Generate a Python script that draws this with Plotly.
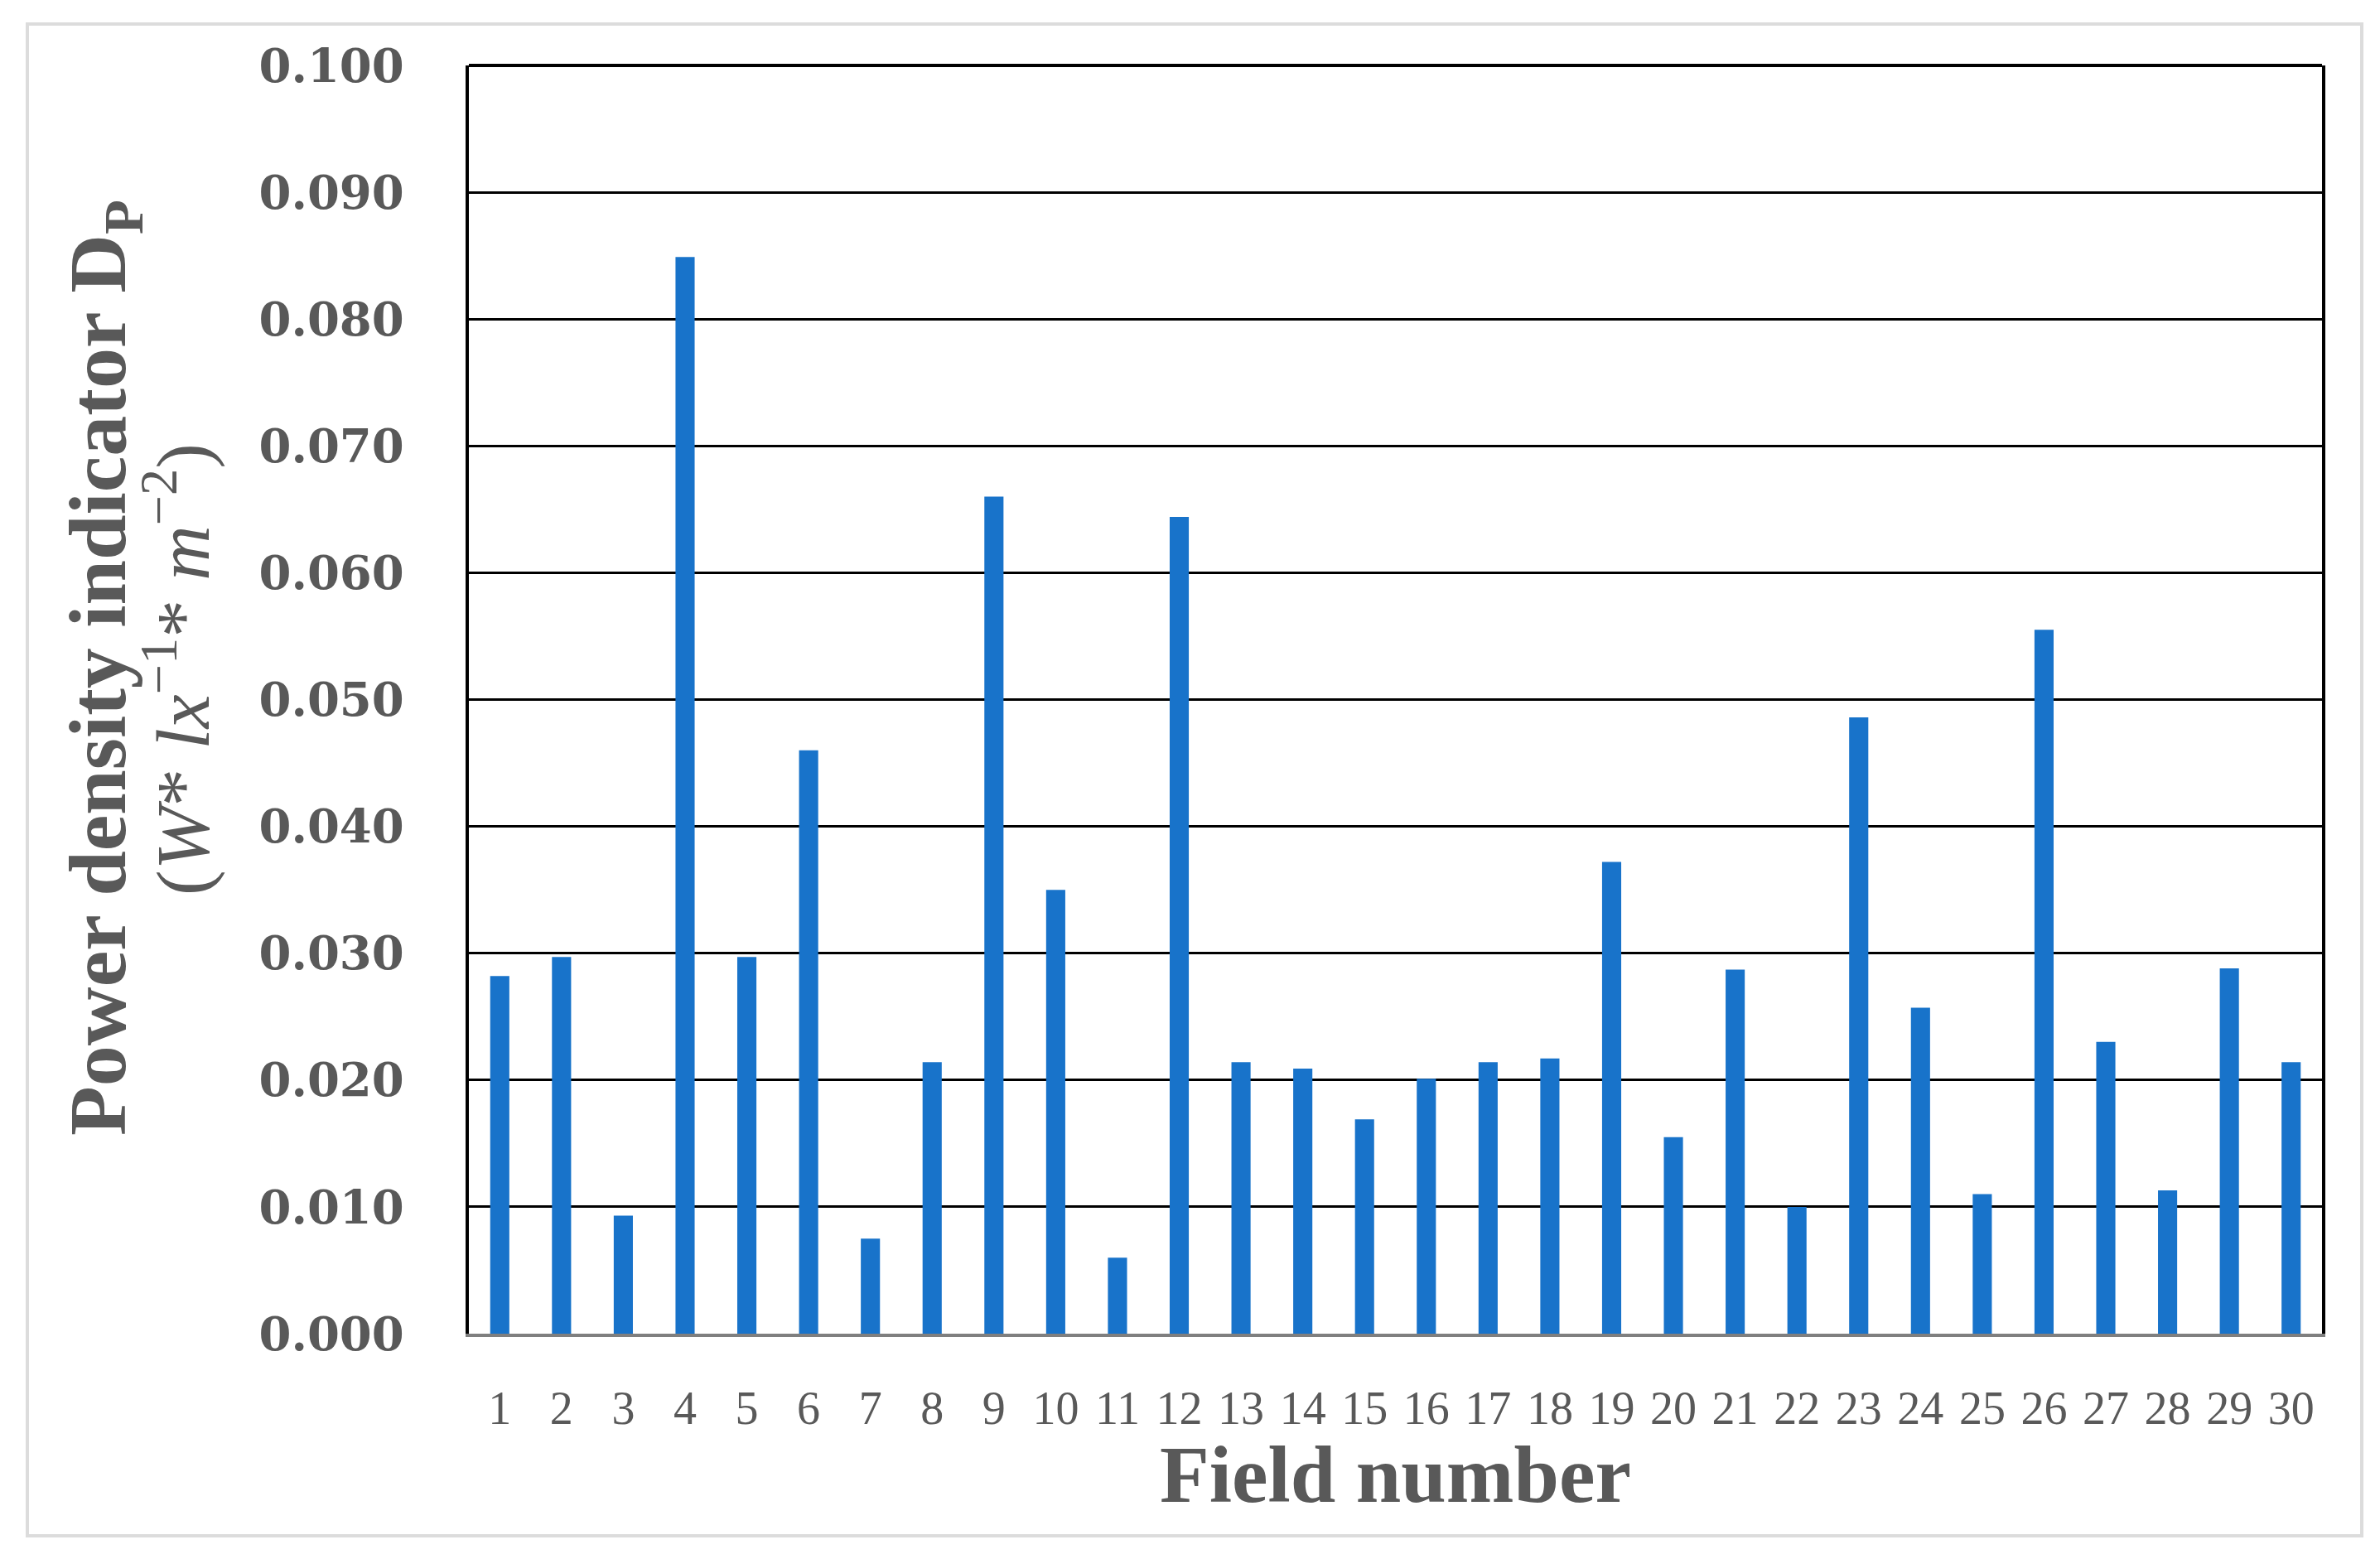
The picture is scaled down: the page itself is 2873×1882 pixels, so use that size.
import plotly.graph_objects as go

# field numbers and power density indicator D_P
fields = [str(i) for i in range(1, 31)]
power_density = [0.0282, 0.0297, 0.0093, 0.0849, 0.0297, 0.0460, 0.0075, 0.0214, 0.0660, 0.0350,
                 0.0060, 0.0644, 0.0214, 0.0209, 0.0169, 0.0201, 0.0214, 0.0217, 0.0372, 0.0155,
                 0.0287, 0.0100, 0.0486, 0.0257, 0.0110, 0.0555, 0.0230, 0.0113, 0.0288, 0.0214]
y_ticks = [0.000, 0.010, 0.020, 0.030, 0.040, 0.050, 0.060, 0.070, 0.080, 0.090, 0.100]

TEXT = '#595959'
# page body has an 8px margin, so the figure is a bit smaller than the window
W, H = 2857, 1866
L, R, T, B = 558, 62, 71, 264
pw, ph = W - L - R, H - T - B


def px_x(p):
    # p: pixel position in the page
    return (p - 8 - L) / pw


def px_y(p):
    return (H - B - (p - 8)) / ph


fig = go.Figure()
fig.add_trace(go.Bar(x=fields, y=power_density, marker=dict(color='#1873CA', line=dict(width=0))))

fig.update_layout(
    width=W, height=H,
    margin=dict(l=L, r=R, t=T, b=B),
    paper_bgcolor='white', plot_bgcolor='white',
    bargap=0.69,
    showlegend=False,
)

fig.update_xaxes(
    type='category',
    showline=True, linecolor='#7f7f7f', linewidth=4,
    showgrid=False, ticks='',
    ticklabelstandoff=38,
    tickfont=dict(family='Liberation Serif', size=56, color=TEXT),
)
fig.update_yaxes(
    range=[0, 0.1],
    tickvals=y_ticks,
    ticktext=['%.3f' % v for v in y_ticks],
    showline=True, linecolor='black', linewidth=4, mirror=True,
    showgrid=True, gridcolor='black', gridwidth=2.5,
    zeroline=False, ticks='',
    ticklabelstandoff=63,
    tickfont=dict(family='DejaVu Serif', size=56, color=TEXT, weight='bold'),
)

# top edge of the plot frame
fig.add_shape(type='line', xref='paper', yref='paper', x0=0, x1=1, y0=1, y1=1,
              line=dict(color='black', width=4))
# light outer border of the figure
fig.add_shape(type='rect', xref='paper', yref='paper',
              x0=px_x(33), x1=px_x(2851), y0=px_y(1854), y1=px_y(29),
              line=dict(color='#dcdcdc', width=4))

fig.add_annotation(text='Field number', xref='paper', yref='paper',
                   x=0.5, y=px_y(1780), xanchor='center', yanchor='middle', showarrow=False,
                   font=dict(family='Liberation Serif', size=98, color=TEXT, weight='bold'))
fig.add_annotation(text='Power density indicator D<sub>P</sub>', xref='paper', yref='paper',
                   x=px_x(125), y=px_y(806), xanchor='center', yanchor='middle', textangle=-90,
                   showarrow=False,
                   font=dict(family='Liberation Serif', size=98, color=TEXT, weight='bold'))
fig.add_annotation(text='(<i>W</i>* <i>lx</i><sup>−1</sup>* <i>m</i><sup>−2</sup>)', xref='paper', yref='paper',
                   x=px_x(214), y=px_y(808), xanchor='center', yanchor='middle', textangle=-90,
                   showarrow=False,
                   font=dict(family='Liberation Serif', size=92, color=TEXT))

fig.write_html('out.html')
